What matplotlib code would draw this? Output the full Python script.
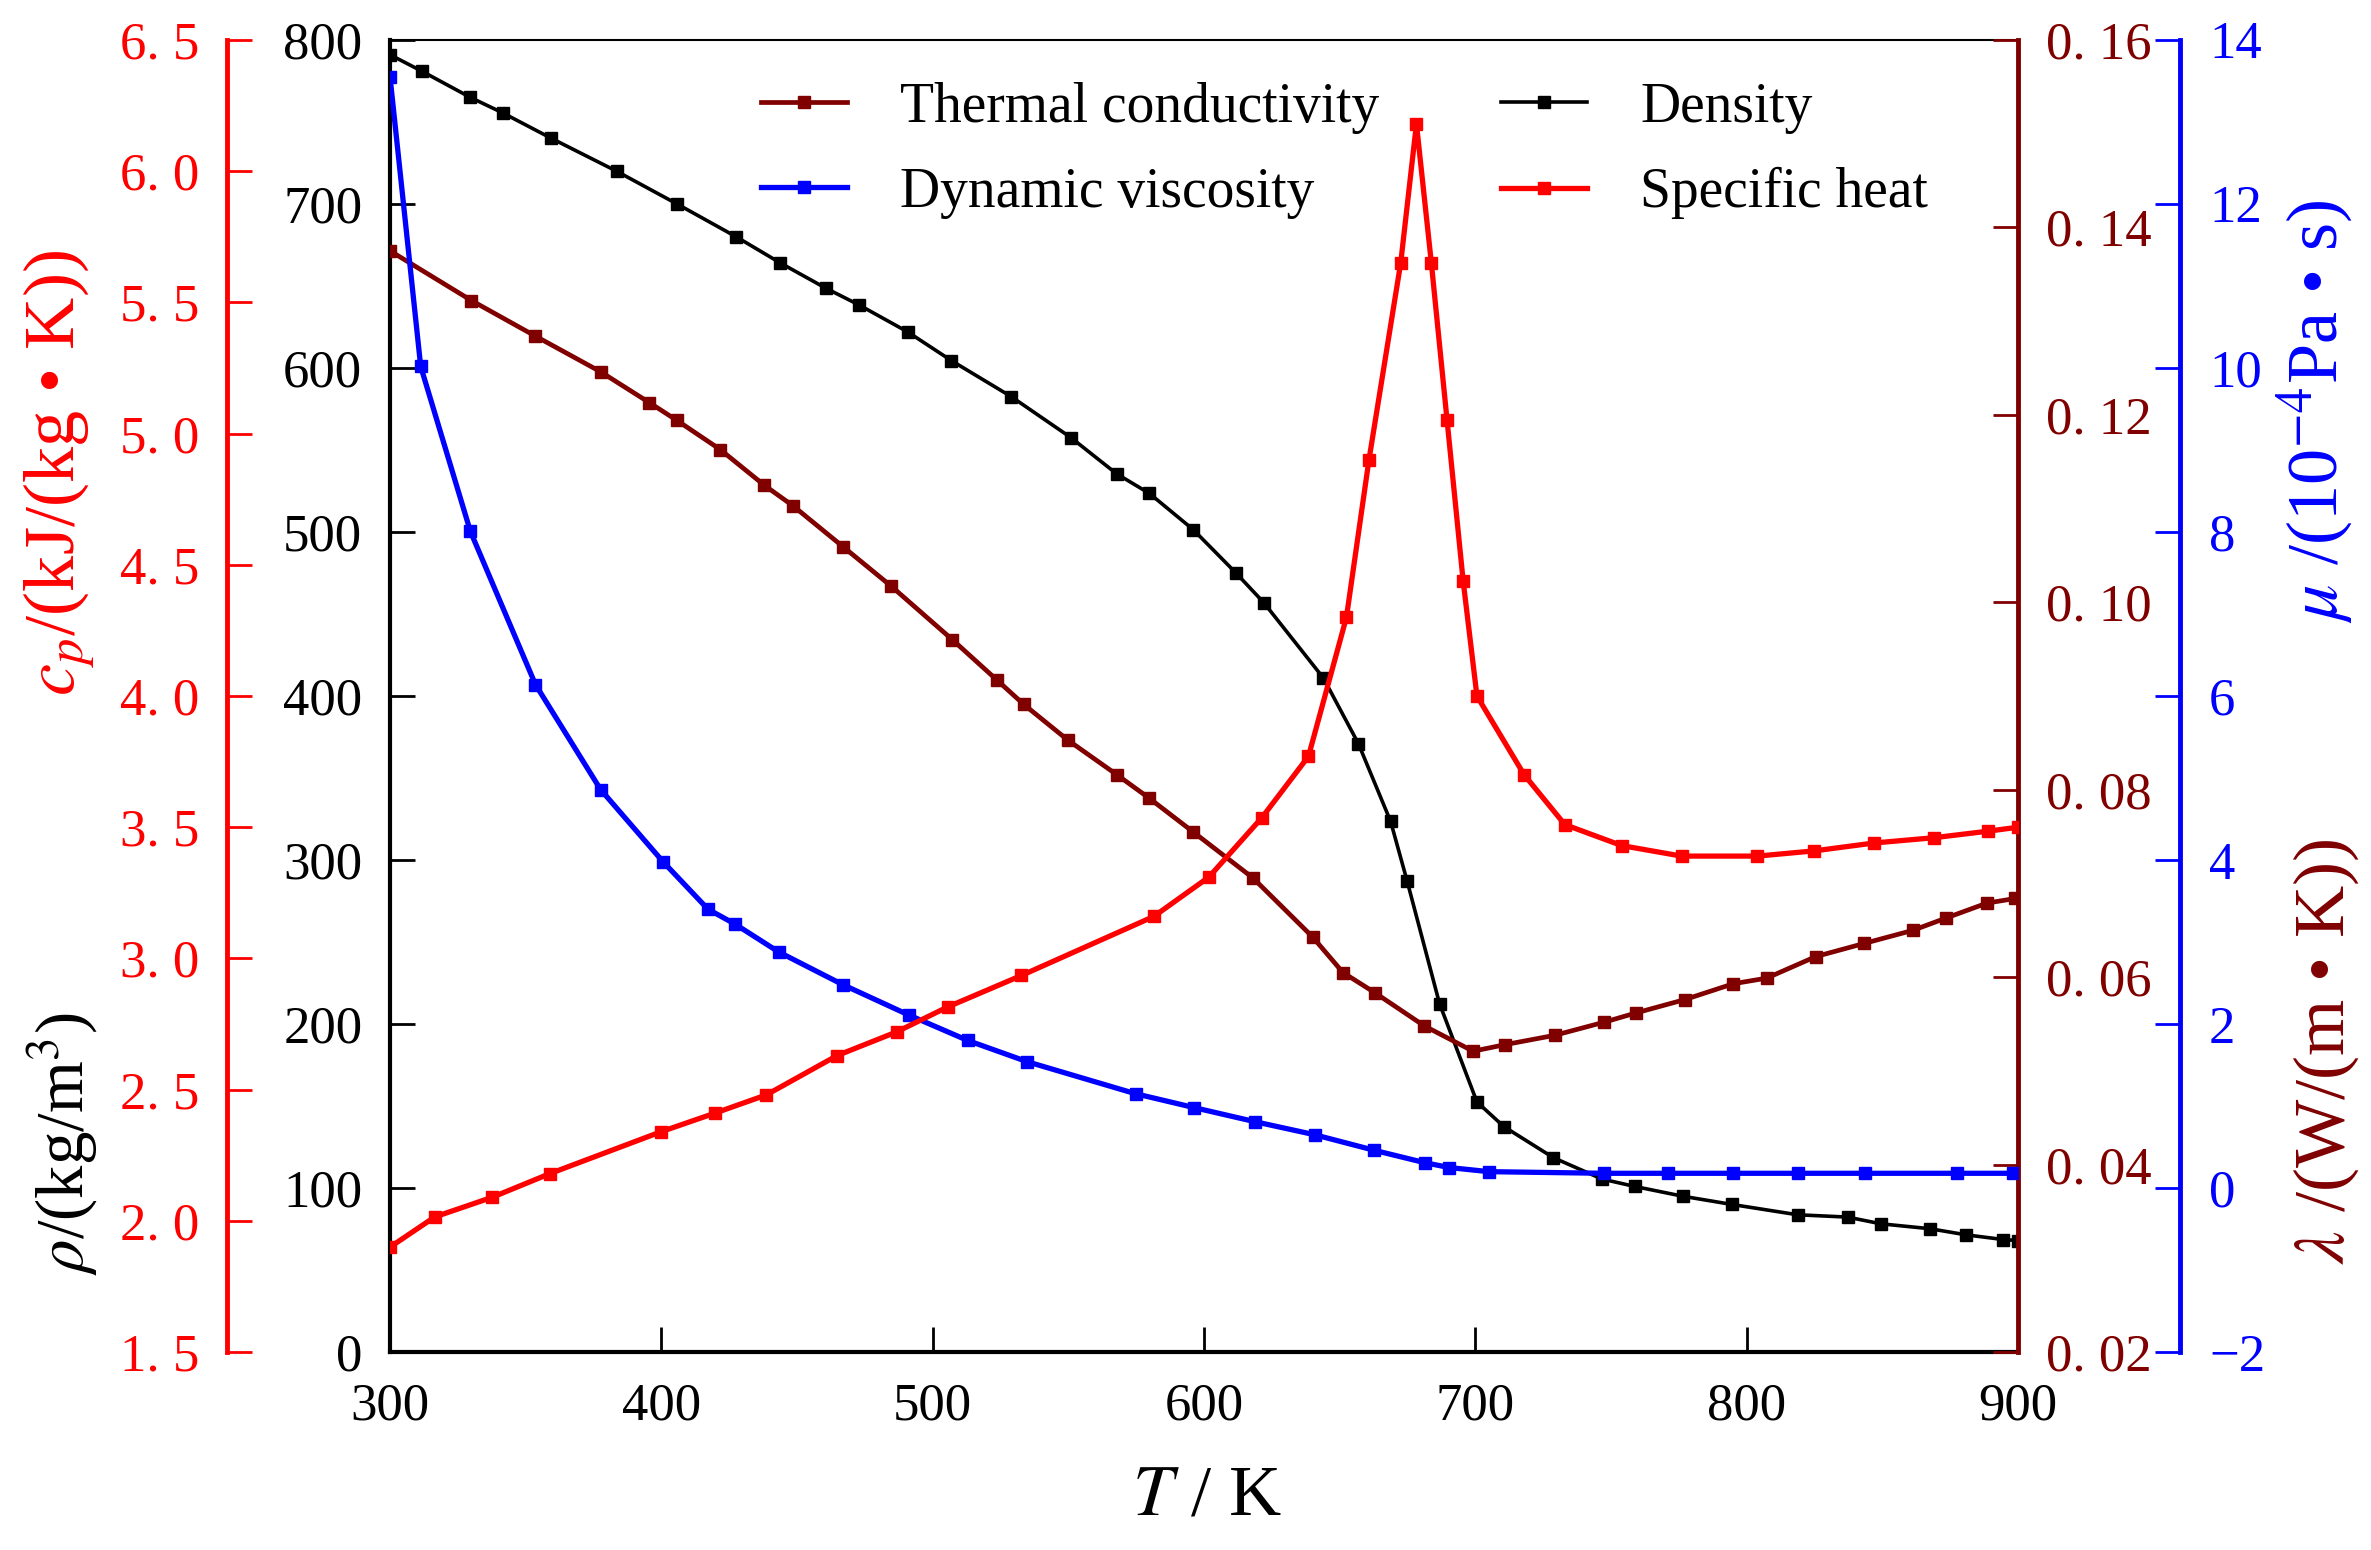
# Thermophysical properties vs temperature (four y axes)

import numpy as np
import matplotlib
matplotlib.use('Agg')
import matplotlib.pyplot as plt
from matplotlib.ticker import FuncFormatter, MultipleLocator

plt.rcParams['font.family'] = ['Liberation Serif', 'DejaVu Serif']
plt.rcParams['mathtext.fontset'] = 'stix'

# density, kg/m3
T_rho = [300, 311.7, 329.6, 341.6, 359.5, 383.5, 405.8, 427.6, 443.9, 460.8, 472.8,
         490.8, 506.9, 529, 551, 567.8, 579.9, 596, 611.8, 622, 644, 656.9, 668.8,
         674.9, 686.8, 700.6, 710.5, 728.8, 746.7, 758.7, 776.5, 794.6, 818.8, 837.2,
         849.5, 867.6, 880.8, 894.6, 900]
rho = [791, 781, 765, 755.5, 740, 720, 700, 680, 664, 648.5, 638.5,
       622, 604.5, 582.5, 557.5, 535.5, 523.5, 501.5, 475, 457, 411, 371, 323.5,
       287, 212.5, 152.5, 137.5, 118.5, 105.5, 101, 95, 90, 83.7, 82.3,
       78.2, 75.2, 71.5, 68.6, 68]

# specific heat, kJ/(kg K)
T_cp = [300, 316.5, 337.7, 358.9, 400, 419.6, 438.7, 464.8, 486.7, 505.5, 532.7,
        581.5, 601.8, 621.3, 638.5, 652.5, 660.8, 672.5, 678.3, 683.8, 689.6, 695.5,
        700.6, 718, 733, 754, 776, 804, 825, 847, 869, 889, 900]
cp = [1.90, 2.015, 2.09, 2.18, 2.34, 2.41, 2.48, 2.63, 2.72, 2.815, 2.935,
      3.16, 3.31, 3.536, 3.77, 4.30, 4.90, 5.65, 6.18, 5.65, 5.05, 4.44,
      4.0, 3.70, 3.51, 3.43, 3.39, 3.39, 3.41, 3.44, 3.46, 3.485, 3.50]

# thermal conductivity, W/(m K)
T_lam = [300, 330, 353.6, 377.6, 395.6, 405.8, 421.7, 437.9, 448.5, 467.1, 484.8,
         507.3, 523.7, 533.6, 549.8, 567.9, 579.8, 596, 618, 640, 651.2, 663.2,
         681.2, 699.2, 710.9, 729.3, 747.5, 759.4, 777.1, 795.1, 807.4, 825.5,
         843.3, 861.3, 873.4, 888.5, 899]
lam = [0.1375, 0.1322, 0.1284, 0.1246, 0.1213, 0.1194, 0.1163, 0.1125, 0.1103, 0.1059, 0.1017,
       0.0960, 0.0917, 0.0891, 0.0853, 0.0816, 0.0791, 0.0755, 0.0706, 0.0643, 0.0605, 0.0583,
       0.0548, 0.0521, 0.0528, 0.0538, 0.0552, 0.0562, 0.0576, 0.0593, 0.0599, 0.0622,
       0.0636, 0.0650, 0.0663, 0.0679, 0.0684]

# dynamic viscosity, 1e-4 Pa s
T_mu = [300, 311.3, 329.6, 353.6, 377.6, 400.6, 417.2, 427.1, 443.2, 466.9, 491.2,
        512.9, 534.9, 574.8, 596.5, 618.7, 640.8, 662.8, 681.3, 690.4, 705, 747.5,
        771, 795, 819, 843.6, 877.5, 898]
mu = [13.55, 10.02, 8.01, 6.14, 4.86, 3.98, 3.40, 3.22, 2.88, 2.48, 2.11,
      1.80, 1.54, 1.15, 0.98, 0.81, 0.65, 0.46, 0.31, 0.25, 0.20, 0.18,
      0.18, 0.18, 0.18, 0.18, 0.18, 0.18]

BROWN = '#800000'
FS_TICK = 38
FS_LAB = 52
TLEN = 18
TW = 2.0

fig = plt.figure(figsize=(23.71, 15.5), dpi=100)
ax = fig.add_axes([0.1645, 0.1277, 0.6866, 0.8465])

ax_lam = ax.twinx()
ax_mu = ax.twinx()
ax_cp = ax.twinx()

# density (main)
l_rho, = ax.plot(T_rho, rho, color='black', lw=2.6, marker='s', ms=9)
ax.set_xlim(300, 900)
ax.set_ylim(0, 800)
ax.xaxis.set_major_locator(MultipleLocator(100))
ax.yaxis.set_major_locator(MultipleLocator(100))
ax.tick_params(axis='x', direction='in', length=TLEN, width=TW, labelsize=FS_TICK, pad=22, top=False)
ax.tick_params(axis='y', direction='in', length=TLEN, width=TW, labelsize=FS_TICK, pad=20, right=False)
ax.spines['right'].set_visible(False)
ax.spines['left'].set_linewidth(3)
ax.spines['bottom'].set_linewidth(3)
ax.spines['top'].set_linewidth(1.5)

# thermal conductivity (right spine)
l_lam, = ax_lam.plot(T_lam, lam, color=BROWN, lw=3.4, marker='s', ms=9)
ax_lam.set_ylim(0.02, 0.16)
ax_lam.yaxis.set_major_locator(MultipleLocator(0.02))
ax_lam.yaxis.set_major_formatter(FuncFormatter(lambda v, _: f"{v:.2f}".replace('.', '. ')))
ax_lam.tick_params(axis='y', direction='in', length=TLEN, width=TW, labelsize=FS_TICK,
                   pad=20, colors=BROWN)
for s in ['left', 'top', 'bottom']:
    ax_lam.spines[s].set_visible(False)
ax_lam.spines['right'].set_color(BROWN)
ax_lam.spines['right'].set_linewidth(3.5)

# dynamic viscosity (outer right spine)
l_mu, = ax_mu.plot(T_mu, mu, color='blue', lw=3.8, marker='s', ms=9)
ax_mu.set_ylim(-2, 14)
ax_mu.yaxis.set_major_locator(MultipleLocator(2))
ax_mu.spines['right'].set_position(('axes', 1.0995))
ax_mu.tick_params(axis='y', direction='in', length=TLEN, width=TW, labelsize=FS_TICK,
                  pad=21, colors='blue')
for s in ['left', 'top', 'bottom']:
    ax_mu.spines[s].set_visible(False)
ax_mu.spines['right'].set_color('blue')
ax_mu.spines['right'].set_linewidth(3.5)

# specific heat (outer left spine)
l_cp, = ax_cp.plot(T_cp, cp, color='red', lw=3.8, marker='s', ms=9)
ax_cp.set_ylim(1.5, 6.5)
ax_cp.yaxis.set_major_locator(MultipleLocator(0.5))
ax_cp.yaxis.set_major_formatter(FuncFormatter(lambda v, _: f"{v:.1f}".replace('.', '. ')))
ax_cp.yaxis.set_ticks_position('left')
ax_cp.spines['left'].set_visible(True)
ax_cp.spines['left'].set_position(('axes', -0.1001))
ax_cp.tick_params(axis='y', direction='in', length=TLEN, width=TW, labelsize=FS_TICK,
                  pad=20, colors='red')
for s in ['right', 'top', 'bottom']:
    ax_cp.spines[s].set_visible(False)
ax_cp.spines['left'].set_color('red')
ax_cp.spines['left'].set_linewidth(3.5)

# axis titles
fig.text(0.509, 0.034, '$T$ / K', fontsize=FS_LAB, ha='center', va='center')
fig.text(0.0253, 0.695, '$c_p$/(kJ/(kg • K))', fontsize=FS_LAB, color='red',
         rotation=90, ha='center', va='center')
fig.text(0.0266, 0.262, r'$\rho$/(kg/m$^3$)', fontsize=48, color='black',
         rotation=90, ha='center', va='center')
fig.text(0.977, 0.735, r'$\mu$ /(10$^{-4}$Pa • s)', fontsize=FS_LAB, color='blue',
         rotation=90, ha='center', va='center')
fig.text(0.981, 0.322, r'$\lambda$ /(W/(m • K))', fontsize=FS_LAB, color=BROWN,
         rotation=90, ha='center', va='center')

handles = [l_lam, l_mu, l_rho, l_cp]
labels = ['Thermal conductivity', 'Dynamic viscosity', 'Density', 'Specific heat']
fig.legend(handles, labels, loc='center', bbox_to_anchor=(0.567, 0.903),
           bbox_transform=fig.transFigure, ncol=2, frameon=False, fontsize=40,
           numpoints=1, handlelength=1.55, handletextpad=0.95, columnspacing=2.2,
           labelspacing=0.6, borderpad=0)

fig.savefig('out.png', dpi=100)
plt.close()
